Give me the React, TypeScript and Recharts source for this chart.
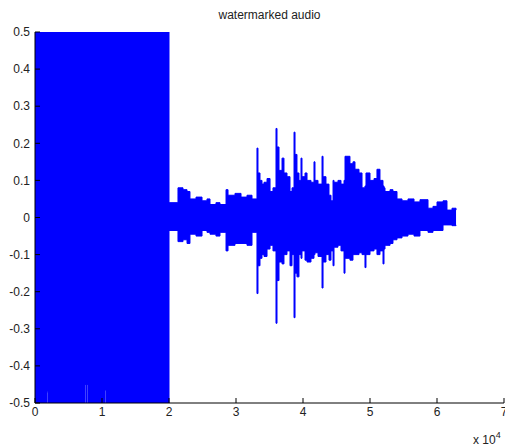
import React from 'react';
import { ComposedChart, Area, XAxis, YAxis } from 'recharts';

// sample index where the envelope changes (step after each point)
const sampleIdx = [
  0, 1790, 1940, 7460, 7610, 7760, 7910, 10450, 10600,
  20000, 21340, 22090, 22690, 23130, 24030, 24930, 25670, 26120, 27010,
  27610, 28510, 28810, 29850, 30750, 31640,
  32390, 33130, 33280, 33580, 33880, 34180, 34630, 35080, 35520, 35970,
  36120, 36420, 36870, 37160, 37610, 38060, 38360, 38660, 38810, 39100,
  39400, 39700, 39850, 40300, 40600, 41190, 41640, 41790, 42240, 42840,
  42990, 43430, 43880, 44180, 44480, 44630, 45220, 45670, 46120, 46270,
  47010, 47460, 47760, 48360, 48810, 49250, 49400, 50000, 50600, 51040,
  51490, 51940, 52090, 52240, 52990, 53430, 54030, 54780, 55670, 56570,
  57460, 58660, 59400, 60000, 60900, 61490, 62240, 62840,
];

const upperEnv = [
  0.5, 0.5, 0.5, 0.5, 0.5, 0.5, 0.5, 0.5, 0.5,
  0.04, 0.08, 0.075, 0.07, 0.05, 0.055, 0.045, 0.05, 0.035, 0.04,
  0.035, 0.075, 0.06, 0.065, 0.055, 0.06,
  0.05, 0.187, 0.12, 0.1, 0.09, 0.095, 0.105, 0.07, 0.08, 0.24,
  0.19, 0.127, 0.16, 0.12, 0.11, 0.07, 0.08, 0.23, 0.17, 0.12,
  0.1, 0.16, 0.11, 0.12, 0.1, 0.095, 0.15, 0.1, 0.09, 0.165,
  0.11, 0.09, 0.06, 0.045, 0.1, 0.095, 0.1, 0.09, 0.1, 0.165,
  0.145, 0.15, 0.13, 0.12, 0.08, 0.085, 0.12, 0.1, 0.105, 0.13,
  0.1, 0.085, 0.08, 0.07, 0.075, 0.07, 0.05, 0.045, 0.05, 0.042,
  0.048, 0.025, 0.03, 0.042, 0.045, 0.02, 0.025, 0.02,
];

const lowerEnv = [
  -0.5, -0.47, -0.5, -0.45, -0.5, -0.45, -0.5, -0.465, -0.5,
  -0.035, -0.065, -0.06, -0.07, -0.045, -0.05, -0.035, -0.04, -0.045, -0.05,
  -0.04, -0.09, -0.075, -0.07, -0.07, -0.075,
  -0.04, -0.205, -0.13, -0.11, -0.1, -0.105, -0.085, -0.075, -0.09, -0.285,
  -0.17, -0.12, -0.125, -0.1, -0.09, -0.13, -0.1, -0.27, -0.15, -0.16,
  -0.1, -0.11, -0.09, -0.115, -0.12, -0.11, -0.1, -0.095, -0.105, -0.19,
  -0.12, -0.1, -0.115, -0.09, -0.13, -0.08, -0.075, -0.09, -0.15, -0.11,
  -0.115, -0.1, -0.1, -0.095, -0.1, -0.135, -0.1, -0.09, -0.085, -0.1,
  -0.09, -0.125, -0.085, -0.075, -0.07, -0.06, -0.055, -0.05, -0.045, -0.05,
  -0.035, -0.04, -0.035, -0.035, -0.02, -0.02, -0.022, -0.02,
];

const xTicks = [0, 10000, 20000, 30000, 40000, 50000, 60000, 70000];
const yTicks = [-0.5, -0.4, -0.3, -0.2, -0.1, 0, 0.1, 0.2, 0.3, 0.4, 0.5];

const data = sampleIdx.map((s, i) => ({ s, range: [lowerEnv[i], upperEnv[i]] }));

const font = { fontFamily: 'Arial, "Liberation Sans", sans-serif', fontSize: 12, fill: '#222' };

export default function App() {
  return (
    <div style={{ position: 'absolute', left: 0, top: 0, width: 505, height: 448, background: '#fff' }}>
      <ComposedChart width={505} height={448} data={data} margin={{ top: 32, right: 1, bottom: 0, left: 0 }}>
        <XAxis xAxisId="b" dataKey="s" type="number" domain={[0, 70000]} ticks={xTicks}
          tickFormatter={(v: number) => String(v / 10000)} height={45}
          stroke="#000" tickSize={-5} tickMargin={9} tick={font} interval={0} allowDataOverflow />
        <XAxis xAxisId="t" orientation="top" dataKey="s" type="number" domain={[0, 70000]} ticks={xTicks}
          height={0} stroke="#000" tickSize={-5} tick={false} allowDataOverflow />
        <YAxis yAxisId="l" type="number" domain={[-0.5, 0.5]} ticks={yTicks} width={35}
          tickFormatter={(v: number) => (Math.abs(v) < 1e-9 ? '0' : v.toFixed(1))}
          stroke="#000" tickSize={-5} tickMargin={10} tick={font} interval={0} allowDataOverflow />
        <YAxis yAxisId="r" orientation="right" type="number" domain={[-0.5, 0.5]} ticks={yTicks} width={0}
          stroke="#000" tickSize={-5} tick={false} allowDataOverflow />
        <Area xAxisId="b" yAxisId="l" type="stepAfter" dataKey="range" stroke="#0000ff" strokeWidth={1}
          fill="#0000ff" fillOpacity={1} isAnimationActive={false} dot={false} activeDot={false} />
      </ComposedChart>
      <div style={{ position: 'absolute', left: 35, width: 469, top: 8, textAlign: 'center', fontFamily: 'Arial, "Liberation Sans", sans-serif', fontSize: 12, color: '#222' }}>
        watermarked audio
      </div>
      <div style={{ position: 'absolute', left: 473, top: 431, fontFamily: 'Arial, "Liberation Sans", sans-serif', fontSize: 12, color: '#222', whiteSpace: 'nowrap' }}>
        x 10<sup style={{ fontSize: 9, position: 'relative', top: -1 }}>4</sup>
      </div>
    </div>
  );
}
